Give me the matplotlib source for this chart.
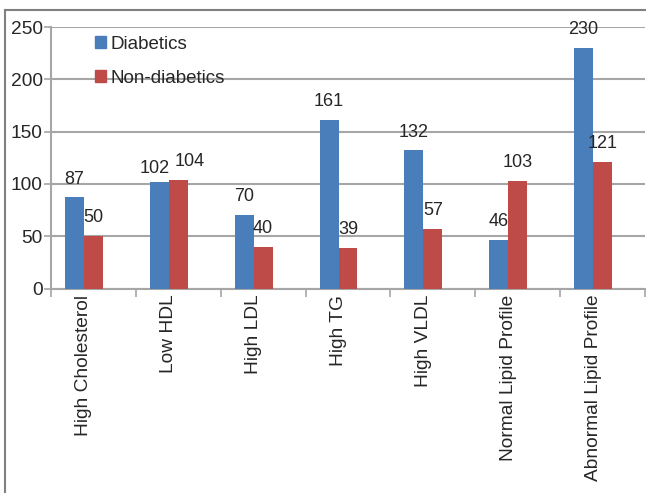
import numpy as np
import matplotlib
matplotlib.use('Agg')
import matplotlib.pyplot as plt
from matplotlib.lines import Line2D
from matplotlib.patches import Patch

plt.rcParams['font.family'] = ['Liberation Sans', 'DejaVu Sans']

categories = ['High Cholesterol', 'Low HDL', 'High LDL', 'High TG',
              'High VLDL', 'Normal Lipid Profile', 'Abnormal Lipid Profile']
diabetics = [87, 102, 70, 161, 132, 46, 230]
non_diabetics = [50, 104, 40, 39, 57, 103, 121]

blue = '#4A7EBB'
red = '#BE4B48'
grid_col = '#A6A6A6'
text_col = '#262626'

fig = plt.figure(figsize=(6.46, 4.93), dpi=100)
ax = fig.add_axes([51 / 646, 1 - 288.5 / 493, 594 / 646, (288.5 - 27) / 493])

x = np.arange(len(categories))
w = 0.2235
ax.bar(x - w, diabetics, width=w, color=blue, label='Diabetics', zorder=3)
ax.bar(x, non_diabetics, width=w, color=red, label='Non-diabetics', zorder=3)

# value labels (Low HDL pair pushed apart, as in the original)
nudge = {1: ((-3, 6), (8, 10))}
for i, (d, n) in enumerate(zip(diabetics, non_diabetics)):
    o1, o2 = nudge.get(i, ((0, 10), (0, 10)))
    ax.annotate(str(d), (x[i] - w, d), xytext=o1, textcoords='offset points',
                ha='center', va='baseline', fontsize=13, color=text_col)
    ax.annotate(str(n), (x[i], n), xytext=o2, textcoords='offset points',
                ha='center', va='baseline', fontsize=13, color=text_col)

ax.set_xlim(-0.5, len(categories) - 0.5)
ax.set_ylim(0, 250)
ax.set_yticks(range(0, 251, 50))
ax.yaxis.grid(True, color=grid_col, linewidth=1.5, zorder=0)

ax.set_xticks(np.arange(len(categories) + 1) - 0.5)
ax.set_xticklabels([])
ax.set_xticks(x - w / 2, minor=True)
ax.set_xticklabels(categories, minor=True, rotation=90, fontsize=13.75, color=text_col)
ax.tick_params(axis='x', which='major', length=6, color=grid_col, width=1.2, direction='out')
ax.tick_params(axis='x', which='minor', length=0, pad=4.5)
ax.tick_params(axis='y', length=5, color=grid_col, width=1.2, labelsize=13.75,
               labelcolor=text_col, pad=1)

for s in ['top', 'right']:
    ax.spines[s].set_visible(False)
for s in ['left', 'bottom']:
    ax.spines[s].set_color(grid_col)
    ax.spines[s].set_linewidth(1.5)

handles = [Patch(color=blue), Patch(color=red)]
fig.legend(handles, ['Diabetics', 'Non-diabetics'], loc='upper left',
           bbox_to_anchor=(95 / 646, 1 - 36 / 493), frameon=False,
           fontsize=13.5, handlelength=0.6, handleheight=0.6, handletextpad=0.25,
           labelspacing=0.9, borderpad=0, borderaxespad=0, labelcolor=text_col)

# outer frame (left and top edges only)
fig.add_artist(Line2D([5 / 646, 5 / 646], [0, 1 - 10 / 493], color='#808080', linewidth=1.5))
fig.add_artist(Line2D([5 / 646, 1], [1 - 10 / 493, 1 - 10 / 493], color='#808080', linewidth=1.5))

fig.savefig('out.png', dpi=100)
